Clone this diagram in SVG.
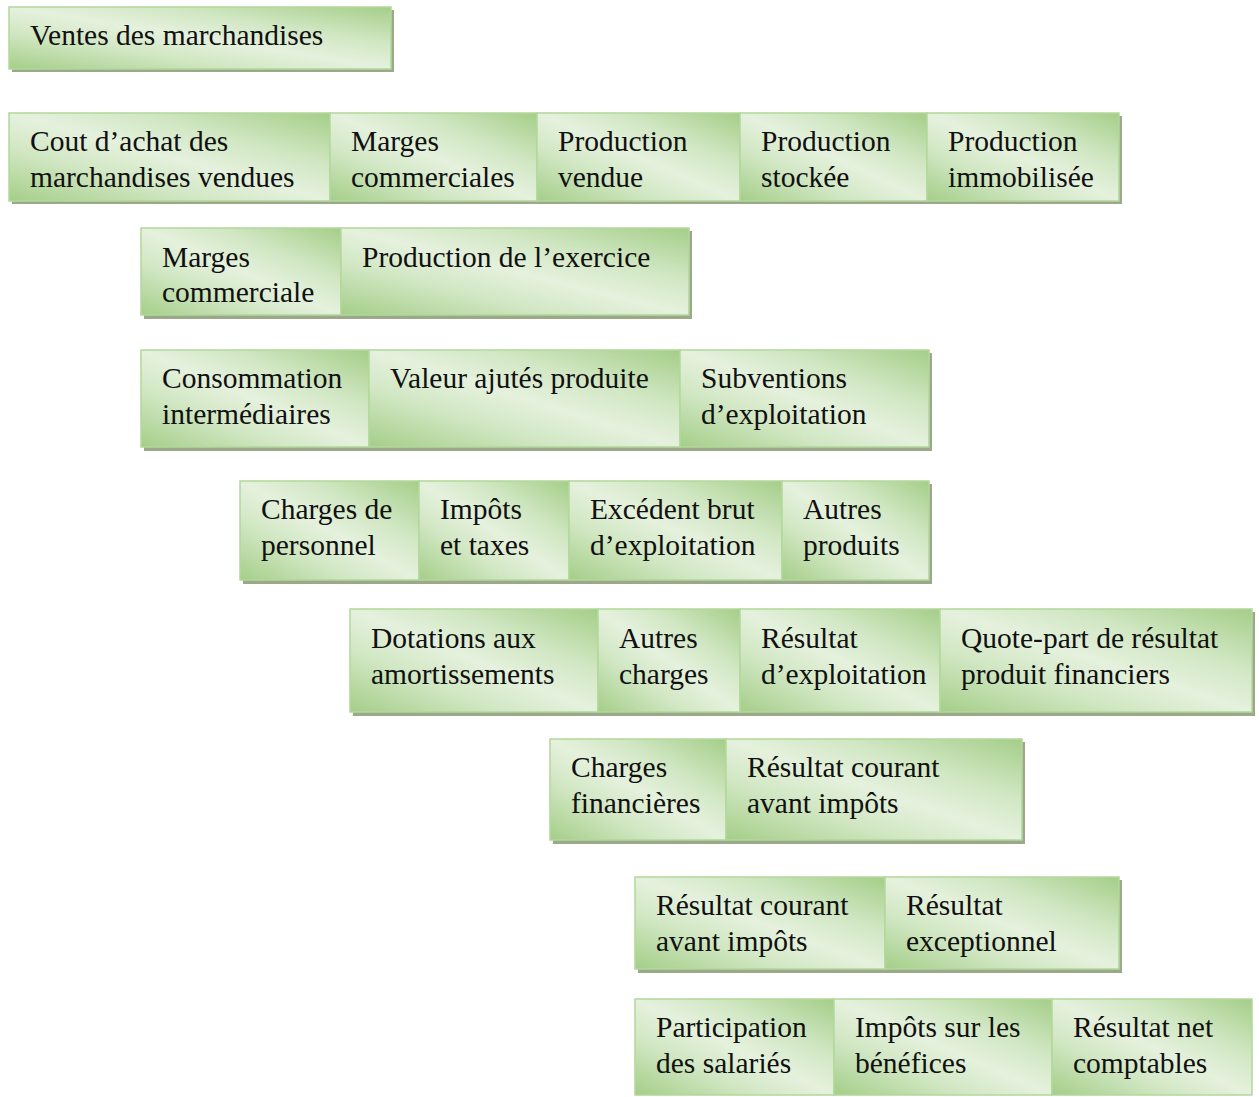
<svg xmlns="http://www.w3.org/2000/svg" width="1259" height="1097" viewBox="0 0 1259 1097">
<defs>
<linearGradient id="g" x1="0" y1="1" x2="1" y2="0">
<stop offset="0" stop-color="#a4ce88"/>
<stop offset="0.3" stop-color="#d1e7c3"/>
<stop offset="0.5" stop-color="#e5f1dd"/>
<stop offset="0.7" stop-color="#d1e7c3"/>
<stop offset="1" stop-color="#a4ce88"/>
</linearGradient>
</defs>
<style>
.sh{fill:#9ba889}
.c{fill:url(#g);stroke:#b3d79c;stroke-width:1.5}
.t{font-family:"Liberation Serif","Times New Roman",serif;font-size:29.5px;fill:#111}
</style>
<rect width="1259" height="1097" fill="#fff"/>
<g id="connectors"/>

<!-- Row 0 -->
<rect class="sh" x="12" y="10" width="382" height="62"/>
<g id="n_ventes"><rect class="c" x="9" y="7" width="382" height="62"/><text class="t" x="30" y="45">Ventes des marchandises</text></g>

<!-- Row 1 -->
<rect class="sh" x="12" y="116" width="1110" height="88"/>
<g id="n_cout"><rect class="c" x="9" y="113" width="321" height="88"/><text class="t" x="30" y="151">Cout d’achat des</text><text class="t" x="30" y="187">marchandises vendues</text></g>
<g id="n_marges1"><rect class="c" x="330" y="113" width="207" height="88"/><text class="t" x="351" y="151">Marges</text><text class="t" x="351" y="187">commerciales</text></g>
<g id="n_prodvendue"><rect class="c" x="537" y="113" width="203" height="88"/><text class="t" x="558" y="151">Production</text><text class="t" x="558" y="187">vendue</text></g>
<g id="n_prodstock"><rect class="c" x="740" y="113" width="187" height="88"/><text class="t" x="761" y="151">Production</text><text class="t" x="761" y="187">stockée</text></g>
<g id="n_prodimmo"><rect class="c" x="927" y="113" width="192" height="88"/><text class="t" x="948" y="151">Production</text><text class="t" x="948" y="187">immobilisée</text></g>

<!-- Row 2 -->
<rect class="sh" x="144" y="231" width="548" height="88"/>
<g id="n_marges2"><rect class="c" x="141" y="228" width="200" height="87"/><text class="t" x="162" y="267">Marges</text><text class="t" x="162" y="302">commerciale</text></g>
<g id="n_prodex"><rect class="c" x="341" y="228" width="348" height="87"/><text class="t" x="362" y="267">Production de l’exercice</text></g>

<!-- Row 3 -->
<rect class="sh" x="144" y="353" width="788" height="98"/>
<g id="n_conso"><rect class="c" x="141" y="350" width="228" height="97"/><text class="t" x="162" y="388">Consommation</text><text class="t" x="162" y="424">intermédiaires</text></g>
<g id="n_va"><rect class="c" x="369" y="350" width="311" height="97"/><text class="t" x="390" y="388">Valeur ajutés produite</text></g>
<g id="n_subv"><rect class="c" x="680" y="350" width="249" height="97"/><text class="t" x="701" y="388">Subventions</text><text class="t" x="701" y="424">d’exploitation</text></g>

<!-- Row 4 -->
<rect class="sh" x="243" y="484" width="689" height="100"/>
<g id="n_chpers"><rect class="c" x="240" y="481" width="179" height="99"/><text class="t" x="261" y="519">Charges de</text><text class="t" x="261" y="555">personnel</text></g>
<g id="n_impots"><rect class="c" x="419" y="481" width="150" height="99"/><text class="t" x="440" y="519">Impôts</text><text class="t" x="440" y="555">et taxes</text></g>
<g id="n_ebe"><rect class="c" x="569" y="481" width="213" height="99"/><text class="t" x="590" y="519">Excédent brut</text><text class="t" x="590" y="555">d’exploitation</text></g>
<g id="n_autresprod"><rect class="c" x="782" y="481" width="147" height="99"/><text class="t" x="803" y="519">Autres</text><text class="t" x="803" y="555">produits</text></g>

<!-- Row 5 -->
<rect class="sh" x="353" y="612" width="902" height="104"/>
<g id="n_dot"><rect class="c" x="350" y="609" width="248" height="103"/><text class="t" x="371" y="648">Dotations aux</text><text class="t" x="371" y="684">amortissements</text></g>
<g id="n_autrescharges"><rect class="c" x="598" y="609" width="142" height="103"/><text class="t" x="619" y="648">Autres</text><text class="t" x="619" y="684">charges</text></g>
<g id="n_rexp"><rect class="c" x="740" y="609" width="200" height="103"/><text class="t" x="761" y="648">Résultat</text><text class="t" x="761" y="684">d’exploitation</text></g>
<g id="n_quote"><rect class="c" x="940" y="609" width="312" height="103"/><text class="t" x="961" y="648">Quote-part de résultat</text><text class="t" x="961" y="684">produit financiers</text></g>

<!-- Row 6 -->
<rect class="sh" x="553" y="742" width="472" height="102"/>
<g id="n_chfin"><rect class="c" x="550" y="739" width="176" height="101"/><text class="t" x="571" y="777">Charges</text><text class="t" x="571" y="813">financières</text></g>
<g id="n_rcai1"><rect class="c" x="726" y="739" width="296" height="101"/><text class="t" x="747" y="777">Résultat courant</text><text class="t" x="747" y="813">avant impôts</text></g>

<!-- Row 7 -->
<rect class="sh" x="638" y="880" width="484" height="93"/>
<g id="n_rcai2"><rect class="c" x="635" y="877" width="250" height="92"/><text class="t" x="656" y="915">Résultat courant</text><text class="t" x="656" y="951">avant impôts</text></g>
<g id="n_rexc"><rect class="c" x="885" y="877" width="234" height="92"/><text class="t" x="906" y="915">Résultat</text><text class="t" x="906" y="951">exceptionnel</text></g>

<!-- Row 8 -->
<g id="n_part"><rect class="c" x="635" y="999" width="199" height="96"/><text class="t" x="656" y="1037">Participation</text><text class="t" x="656" y="1073">des salariés</text></g>
<g id="n_is"><rect class="c" x="834" y="999" width="218" height="96"/><text class="t" x="855" y="1037">Impôts sur les</text><text class="t" x="855" y="1073">bénéfices</text></g>
<g id="n_rnet"><rect class="c" x="1052" y="999" width="200" height="96"/><text class="t" x="1073" y="1037">Résultat net</text><text class="t" x="1073" y="1073">comptables</text></g>
</svg>
